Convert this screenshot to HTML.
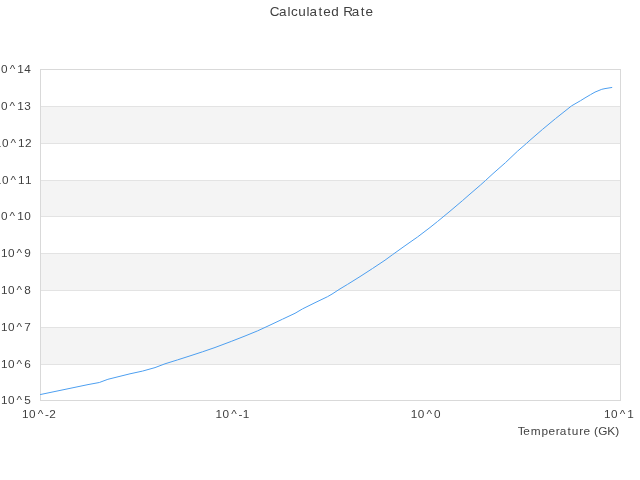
<!DOCTYPE html>
<html lang="en">
<head>
<meta charset="utf-8">
<title>Calculated Rate</title>
<style>
html,body{margin:0;padding:0;background:#ffffff;}
body{width:640px;height:480px;overflow:hidden;}
#chart{position:relative;width:640px;height:480px;overflow:hidden;background:#ffffff;}
#chart svg{display:block;position:absolute;left:0;top:0;transform:translateZ(0);}
#chart text{font-family:"Liberation Sans",sans-serif;}
</style>
</head>
<body>
<div id="chart">
<svg width="640" height="480" viewBox="0 0 640 480">
<g class="grid-bands">
<rect x="41" y="107" width="579" height="36" fill="#f4f4f4"/>
<rect x="41" y="181" width="579" height="35" fill="#f4f4f4"/>
<rect x="41" y="254" width="579" height="36" fill="#f4f4f4"/>
<rect x="41" y="328" width="579" height="36" fill="#f4f4f4"/>
</g>
<g class="grid-lines" stroke="#e3e3e3" stroke-width="1">
<path d="M41 106.5H620"/>
<path d="M41 143.5H620"/>
<path d="M41 180.5H620"/>
<path d="M41 216.5H620"/>
<path d="M41 253.5H620"/>
<path d="M41 290.5H620"/>
<path d="M41 327.5H620"/>
<path d="M41 364.5H620"/>
</g>
<rect class="plot-border" x="40.5" y="69.5" width="580" height="331" fill="none" stroke="#d9d9d9" stroke-width="1"/>
<path class="series" d="M40.5 394.5L88 384.6L99.3 382.5L107.9 379.3L130 373.8L142.5 371.1L155 367.6L165 363.8L177.5 359.9L190 355.9L202.5 351.8L215 347.5L231.25 341.4L245 336L257.5 330.9L270 325.1L282.5 319.2L295 313.3L302.5 308.9L315 302.7L327.5 296.7L332 294.1L340 288.9L347.5 284.4L360 276.6L372.5 268.5L385 260.2L392.5 254.7L405 245.75L417.5 237L430 227.5L437.5 221.5L450 211.2L462.5 200.6L469 194.9L480.5 185L485.5 180.5L493 173.6L505.5 162.6L517.5 151.2L526.5 143.4L530 140.2L542.5 129.4L555.5 118.6L568 108.7L571.5 105.9L580.5 100.7L585 97.9L590.6 94.6L595 92.1L601.8 89.3L605 88.6L611.8 87.5" fill="none" stroke="#4d9ff0" stroke-width="1" stroke-linejoin="round" stroke-linecap="round"/>
<text class="title" x="269.83 279.04 287.58 290.93 298.37 306.58 309.62 318.49 323.21 331.23 339.38 343.18 351.83 360.69 365.42" y="16" font-size="13.5" fill="#404040">Calculated Rate</text>
<g class="y-labels">
<text transform="scale(1.07 1)" x="-5.57 1.02 9.08 16.12 22.72" y="73" font-size="11" fill="#404040">10^14</text>
<text transform="scale(1.07 1)" x="-5.66 0.92 8.98 16.02 22.64" y="110" font-size="11" fill="#404040">10^13</text>
<text transform="scale(1.07 1)" x="-4.82 1.77 9.82 16.87 23.33" y="147" font-size="11" fill="#404040">10^12</text>
<text transform="scale(1.07 1)" x="-4.82 1.77 9.82 16.87 23.41" y="184" font-size="11" fill="#404040">10^11</text>
<text transform="scale(1.07 1)" x="-5.66 0.92 8.98 16.02 22.62" y="220" font-size="11" fill="#404040">10^10</text>
<text transform="scale(1.07 1)" x="0.88 7.47 15.53 22.59" y="257" font-size="11" fill="#404040">10^9</text>
<text transform="scale(1.07 1)" x="0.88 7.47 15.53 22.62" y="294" font-size="11" fill="#404040">10^8</text>
<text transform="scale(1.07 1)" x="0.88 7.47 15.53 22.6" y="331" font-size="11" fill="#404040">10^7</text>
<text transform="scale(1.07 1)" x="0.88 7.47 15.53 22.62" y="368" font-size="11" fill="#404040">10^6</text>
<text transform="scale(1.07 1)" x="0.88 7.47 15.53 22.58" y="404" font-size="11" fill="#404040">10^5</text>
</g>
<g class="x-labels">
<text transform="scale(1.07 1)" x="20.62 27.21 35.27 42.18 45.94" y="418" font-size="11" fill="#404040">10^-2</text>
<text transform="scale(1.07 1)" x="201.37 207.96 216.02 222.93 226.77" y="418" font-size="11" fill="#404040">10^-1</text>
<text transform="scale(1.07 1)" x="383.88 390.47 398.53 405.62" y="418" font-size="11" fill="#404040">10^0</text>
<text transform="scale(1.07 1)" x="564.54 571.12 579.18 586.22" y="418" font-size="11" fill="#404040">10^1</text>
</g>
<text class="x-title" transform="scale(1.03 1)" x="502.76 508.05 515.19 525.63 532.48 539.65 543.46 551.03 555.15 562.46 566.47 573.26 576.65 580.84 589.56 597.36" y="435" font-size="11.5" fill="#424242">Temperature (GK)</text>
</svg>
</div>
</body>
</html>
